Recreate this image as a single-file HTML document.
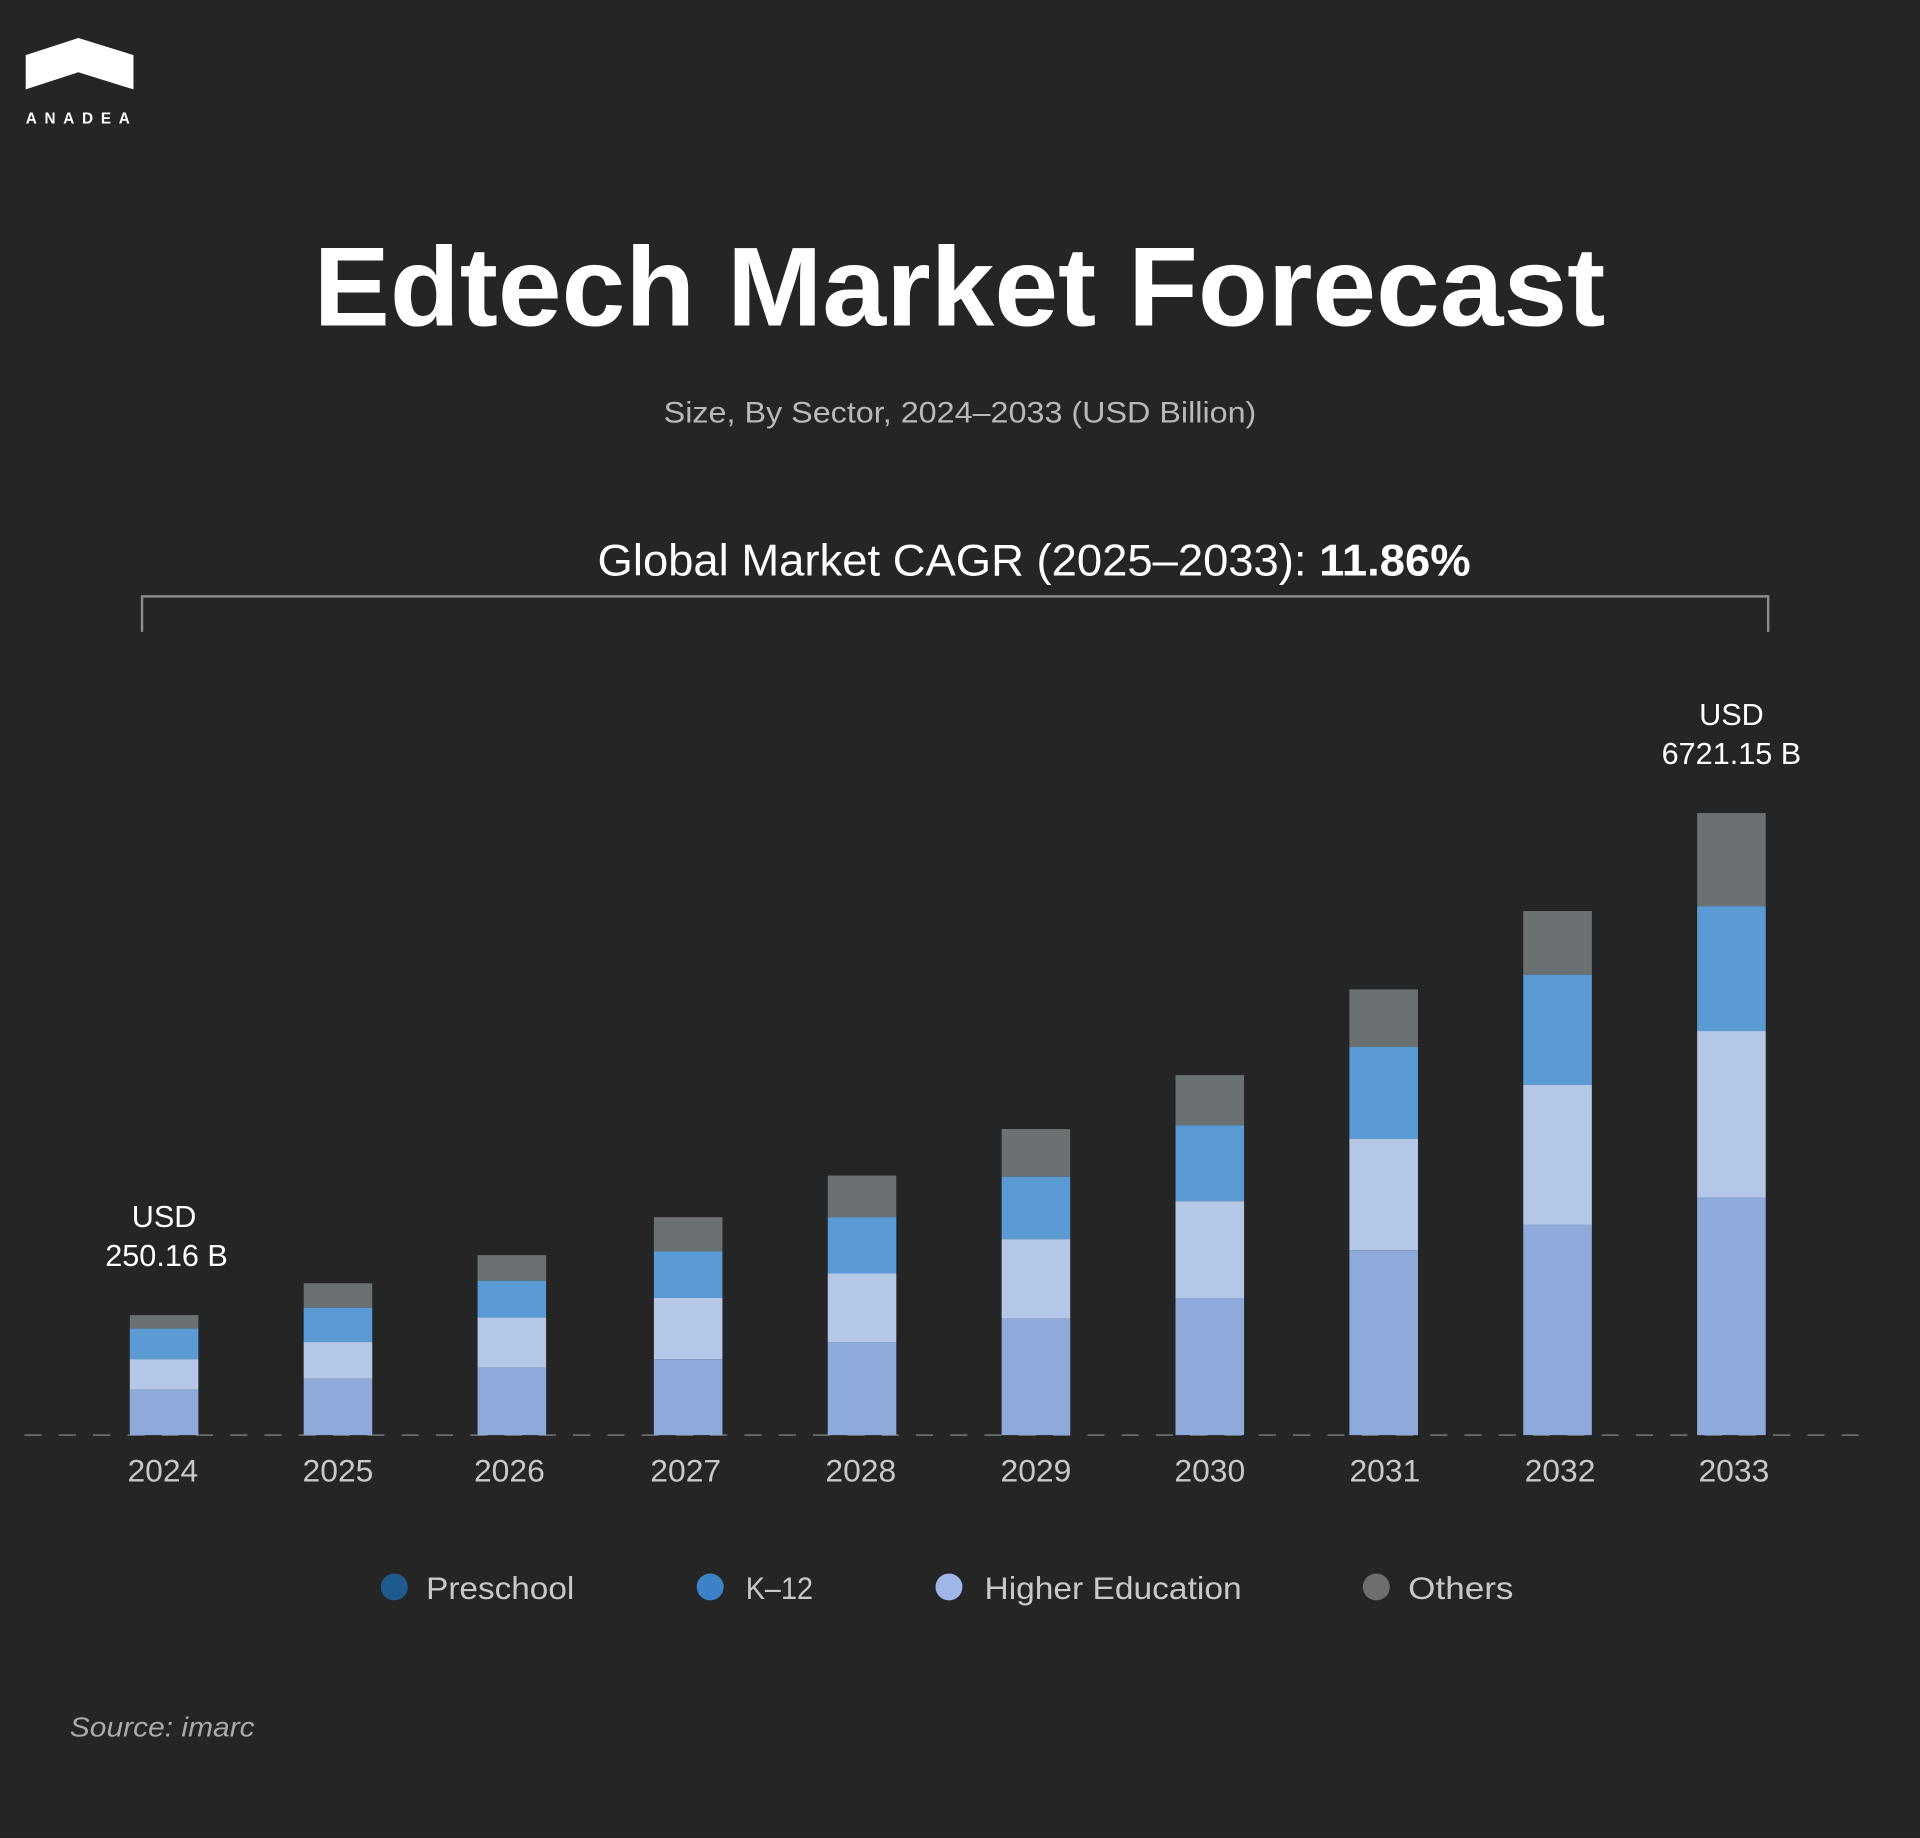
<!DOCTYPE html>
<html><head><meta charset="utf-8"><style>
html,body{margin:0;padding:0;background:#252525;}
svg{display:block}
text{font-family:"Liberation Sans",sans-serif;}
</style></head><body>
<svg width="1920" height="1838" viewBox="0 0 1568 1501" xmlns="http://www.w3.org/2000/svg">
<rect width="1568" height="1501" fill="#252525"/>
<polygon points="21,45 64,31 109,45 109,73 64,59 21,73" fill="#fff"/>
<text x="21" y="101" font-size="12.5" fill="#fff" letter-spacing="5" font-weight="bold" textLength="90">ANADEA</text>
<text x="256" y="266" font-size="92" font-weight="bold" fill="#fff" textLength="1055" lengthAdjust="spacingAndGlyphs">Edtech Market Forecast</text>
<text x="542" y="345" font-size="24" fill="#b8b8b8" textLength="484" lengthAdjust="spacingAndGlyphs">Size, By Sector, 2024–2033 (USD Billion)</text>
<text x="488" y="470" font-size="36" fill="#fff" textLength="713" lengthAdjust="spacingAndGlyphs">Global Market CAGR (2025–2033): <tspan font-weight="bold">11.86%</tspan></text>
<polyline points="116,516 116,487 1444,487 1444,516" fill="none" stroke="#8a8a8a" stroke-width="2"/>
<text x="134" y="1002" font-size="25" fill="#fff" text-anchor="middle">USD</text>
<text x="136" y="1034" font-size="25" fill="#fff" text-anchor="middle">250.16 B</text>
<text x="1414" y="592" font-size="25" fill="#fff" text-anchor="middle">USD</text>
<text x="1414" y="624" font-size="25" fill="#fff" text-anchor="middle">6721.15 B</text>
<line x1="20" y1="1172" x2="1528" y2="1172" stroke="#6a6a6a" stroke-width="1.5" stroke-dasharray="14,14"/>
<g font-size="26" fill="#c8c8c8" text-anchor="middle">
<text x="133" y="1210">2024</text><text x="276" y="1210">2025</text><text x="416" y="1210">2026</text><text x="560" y="1210">2027</text><text x="703" y="1210">2028</text><text x="846" y="1210">2029</text><text x="988" y="1210">2030</text><text x="1131" y="1210">2031</text><text x="1274" y="1210">2032</text><text x="1416" y="1210">2033</text>
</g>
<g font-size="26" fill="#c8c8c8">
<circle cx="322" cy="1296" r="11" fill="#1f5a8f"/><text x="348" y="1306" textLength="121" lengthAdjust="spacingAndGlyphs">Preschool</text>
<circle cx="580" cy="1296" r="11" fill="#3b82c6"/><text x="609" y="1306" textLength="55" lengthAdjust="spacingAndGlyphs">K–12</text>
<circle cx="775" cy="1296" r="11" fill="#9fb6e6"/><text x="804" y="1306" textLength="210" lengthAdjust="spacingAndGlyphs">Higher Education</text>
<circle cx="1124" cy="1296" r="11" fill="#6e6e6e"/><text x="1150" y="1306" textLength="86" lengthAdjust="spacingAndGlyphs">Others</text>
</g>
<text x="57" y="1418" font-size="23" fill="#aaa" font-style="italic" textLength="151" lengthAdjust="spacingAndGlyphs">Source: imarc</text>
<g>
<rect x="106" y="1074" width="56" height="11" fill="#6b7173"/><rect x="106" y="1085" width="56" height="25" fill="#5b9bd5"/><rect x="106" y="1110" width="56" height="25" fill="#b4c7e7"/><rect x="106" y="1135" width="56" height="37" fill="#8eaadb"/>
<rect x="248" y="1048" width="56" height="20" fill="#6b7173"/><rect x="248" y="1068" width="56" height="28" fill="#5b9bd5"/><rect x="248" y="1096" width="56" height="30" fill="#b4c7e7"/><rect x="248" y="1126" width="56" height="46" fill="#8eaadb"/>
<rect x="390" y="1025" width="56" height="21" fill="#6b7173"/><rect x="390" y="1046" width="56" height="30" fill="#5b9bd5"/><rect x="390" y="1076" width="56" height="41" fill="#b4c7e7"/><rect x="390" y="1117" width="56" height="55" fill="#8eaadb"/>
<rect x="534" y="994" width="56" height="28" fill="#6b7173"/><rect x="534" y="1022" width="56" height="38" fill="#5b9bd5"/><rect x="534" y="1060" width="56" height="50" fill="#b4c7e7"/><rect x="534" y="1110" width="56" height="62" fill="#8eaadb"/>
<rect x="676" y="960" width="56" height="34" fill="#6b7173"/><rect x="676" y="994" width="56" height="46" fill="#5b9bd5"/><rect x="676" y="1040" width="56" height="56" fill="#b4c7e7"/><rect x="676" y="1096" width="56" height="76" fill="#8eaadb"/>
<rect x="818" y="922" width="56" height="39" fill="#6b7173"/><rect x="818" y="961" width="56" height="51" fill="#5b9bd5"/><rect x="818" y="1012" width="56" height="65" fill="#b4c7e7"/><rect x="818" y="1077" width="56" height="95" fill="#8eaadb"/>
<rect x="960" y="878" width="56" height="41" fill="#6b7173"/><rect x="960" y="919" width="56" height="62" fill="#5b9bd5"/><rect x="960" y="981" width="56" height="79" fill="#b4c7e7"/><rect x="960" y="1060" width="56" height="112" fill="#8eaadb"/>
<rect x="1102" y="808" width="56" height="47" fill="#6b7173"/><rect x="1102" y="855" width="56" height="75" fill="#5b9bd5"/><rect x="1102" y="930" width="56" height="91" fill="#b4c7e7"/><rect x="1102" y="1021" width="56" height="151" fill="#8eaadb"/>
<rect x="1244" y="744" width="56" height="52" fill="#6b7173"/><rect x="1244" y="796" width="56" height="90" fill="#5b9bd5"/><rect x="1244" y="886" width="56" height="114" fill="#b4c7e7"/><rect x="1244" y="1000" width="56" height="172" fill="#8eaadb"/>
<rect x="1386" y="664" width="56" height="76" fill="#6b7173"/><rect x="1386" y="740" width="56" height="102" fill="#5b9bd5"/><rect x="1386" y="842" width="56" height="136" fill="#b4c7e7"/><rect x="1386" y="978" width="56" height="194" fill="#8eaadb"/>
</g>
</svg>
</body></html>
